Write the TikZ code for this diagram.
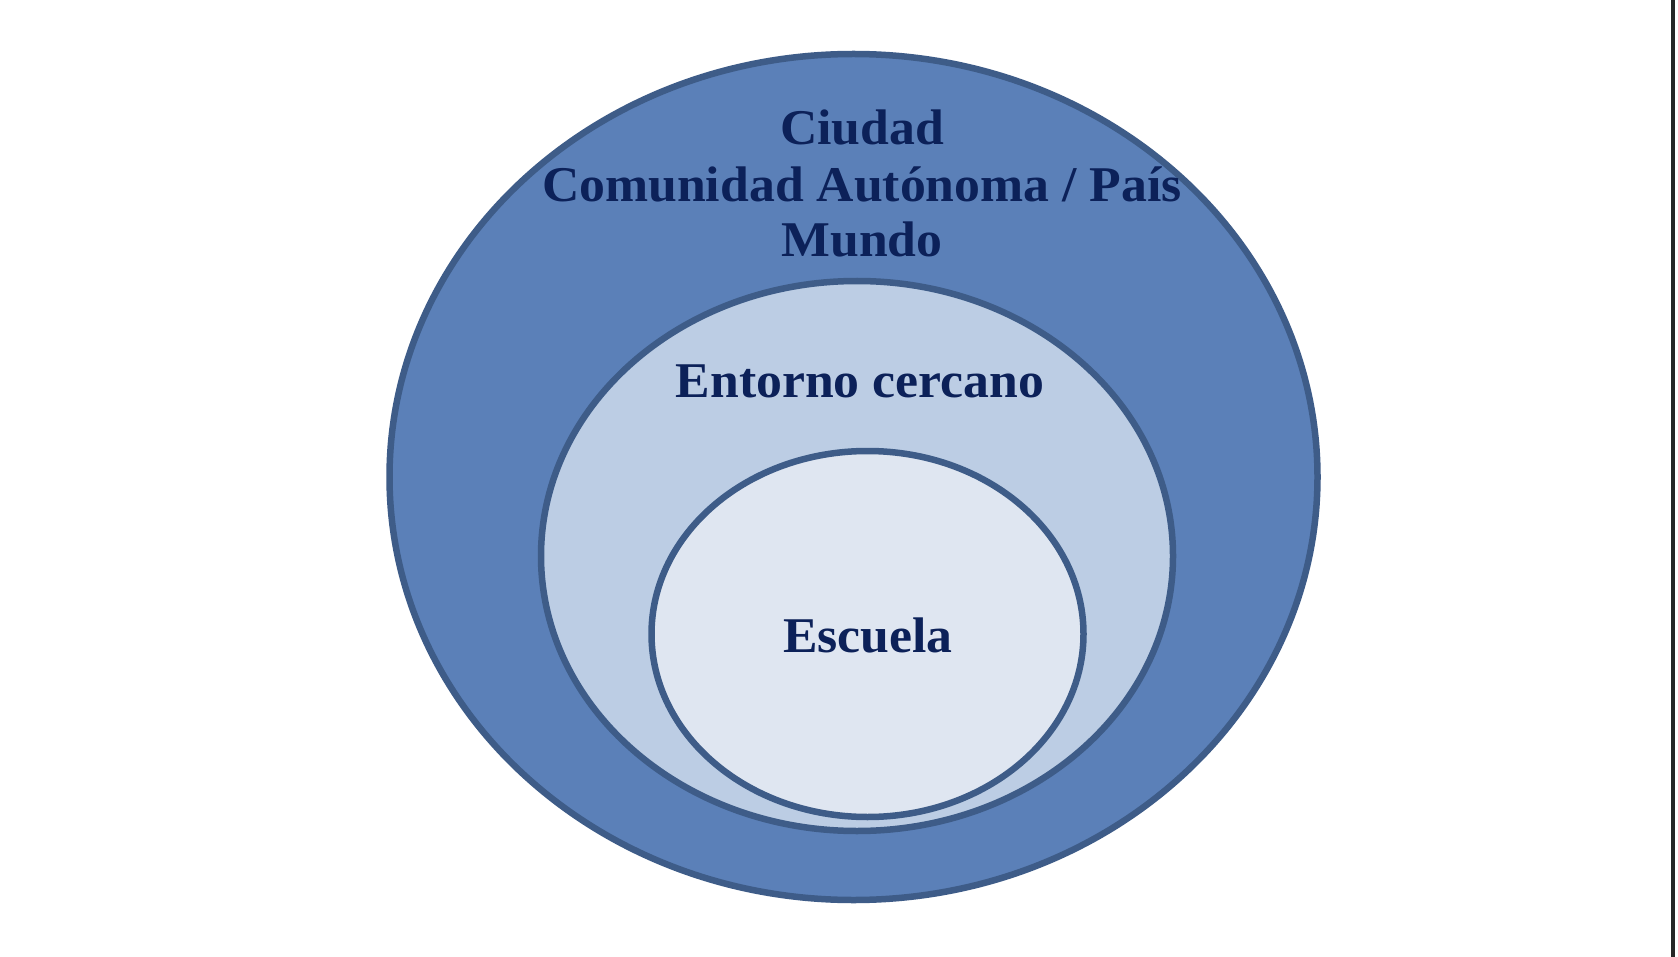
\documentclass[tikz,border=0pt]{standalone}
\usepackage{fontspec}
\setmainfont{Liberation Serif}[FakeStretch=1.035]
\definecolor{outerfill}{HTML}{5B80B8}
\definecolor{midfill}{HTML}{BCCDE4}
\definecolor{innerfill}{HTML}{DFE6F1}
\definecolor{ringline}{HTML}{3E5C88}
\definecolor{labeltext}{HTML}{0C2159}
\tikzset{
  ring/.style={draw=ringline, line width=6.5pt},
  lbl/.style={anchor=base, inner sep=0pt, text=labeltext, font=\fontsize{50}{56}\selectfont\bfseries}
}
\begin{document}
\begin{tikzpicture}[x=1pt, y=-1pt]
\useasboundingbox[fill=white] (0,0) rectangle (1678,957);
\fill[ring, fill=outerfill] (853.5,477) ellipse [x radius=464pt, y radius=423pt];
\fill[ring, fill=midfill] (857,556) ellipse [x radius=316pt, y radius=275pt];
\fill[ring, fill=innerfill] (867.5,634) ellipse [x radius=216pt, y radius=183pt];
\node[lbl] (ciudad) at (862,145) {Ciudad};
\node[lbl] (comunidad) at (862,202) {Comunidad Autónoma / País};
\node[lbl] (mundo) at (862,257) {Mundo};
\node[lbl] (entorno) at (860,397) {Entorno cercano};
\node[lbl] (escuela) at (868,652) {Escuela};
\draw[line width=4pt, black!85] (1673,0) -- (1673,957);
\end{tikzpicture}
\end{document}
